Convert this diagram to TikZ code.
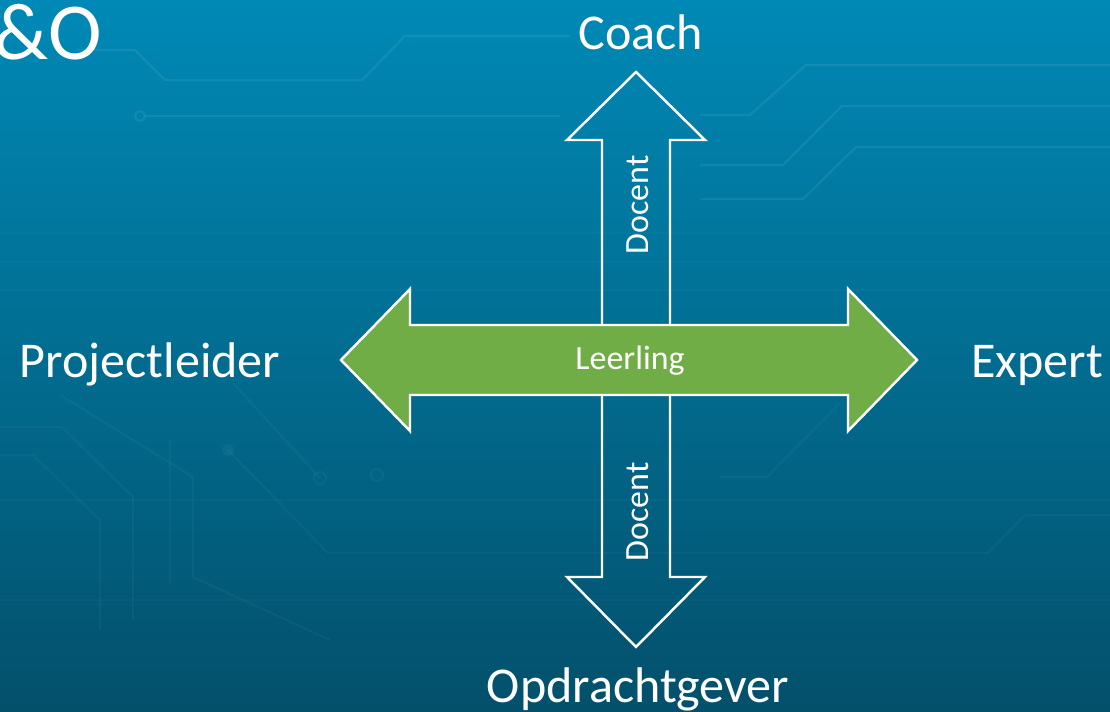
\documentclass[tikz,border=0pt]{standalone}
\usepackage{fontspec}
\setmainfont{Carlito}
\usetikzlibrary{positioning}

\definecolor{slidetop}{HTML}{0089B6}
\definecolor{slidebottom}{HTML}{03506B}
\definecolor{leerlinggreen}{HTML}{70AD47}

\begin{document}
\begin{tikzpicture}[
  x=0.02cm, y=-0.02cm,
  role/.style={text=white, inner sep=0pt, font=\fontsize{28.5}{34}\selectfont},
  arrowlabel/.style={text=white, inner sep=0pt, font=\fontsize{19.3}{23}\selectfont},
  outline/.style={draw=white, line width=1.4pt, line join=miter},
  trace/.style={draw=white, opacity=0.07, line width=1.3pt},
  faint/.style={trace, opacity=0.035}
]
  \useasboundingbox (0,0) rectangle (1110,712);
  \clip (0,0) rectangle (1110,712);

  % background
  \shade[top color=slidetop, bottom color=slidebottom] (0,0) rectangle (1110,712);
  \foreach \yy in {233,262,290,500,600}
    \draw[trace, opacity=0.025] (0,\yy) -- (1110,\yy);

  % circuit traces
  \draw[trace] (77,50) -- (135,50) -- (165,80) -- (362,80) -- (405,36) -- (570,36);
  \draw[trace] (140,116) circle (5);
  \draw[trace] (145,116) -- (560,116);
  \draw[trace] (700,115) -- (750,115) -- (806,65) -- (1110,65);
  \draw[trace] (700,165) -- (783,165) -- (842,106) -- (1110,106);
  \draw[trace] (700,199) -- (803,199) -- (856,147) -- (1110,147);
  \draw[faint] (720,477) -- (767,477) -- (840,403);
  \fill[white, opacity=0.04] (228,450) circle (6);
  \draw[faint] (228,450) -- (328,553) -- (988,553) -- (1025,515) -- (1110,515);
  \draw[faint] (233,383) -- (320,478);
  \draw[faint] (320,478) circle (6);
  \draw[faint] (377,475) circle (6);
  \draw[faint] (0,427) -- (62,427) -- (133,497) -- (133,620);
  \draw[faint] (0,455) -- (33,455) -- (100,520) -- (100,630);
  \draw[faint] (60,395) -- (193,477) -- (193,577) -- (330,640);
  \draw[faint] (170,440) -- (170,585);

  % vertical arrow (teacher roles)
  \draw[outline] (602,140) -- (567,140) -- (636,72) -- (705,140) -- (670,140)
    -- (670,577) -- (705,577) -- (636,647) -- (567,577) -- (602,577) -- cycle;

  % horizontal arrow (student roles)
  \draw[outline, fill=leerlinggreen] (410,325) -- (410,289) -- (341,360) -- (410,431) -- (410,395)
    -- (848,395) -- (848,431) -- (917,360) -- (848,289) -- (848,325) -- cycle;

  \node[arrowlabel, anchor=base] (leerling) at (630,370) {Leerling};
  \node[arrowlabel, anchor=base, rotate=90] (docentup) at (648,205) {Docent};
  \node[arrowlabel, anchor=base, rotate=90] (docentdown) at (648,512) {Docent};

  \node[role, anchor=base] (coach) at (641,50) {Coach};
  \node[role, anchor=base] (opdrachtgever) at (638,703) {Opdrachtgever};
  \node[role, anchor=base] (projectleider) at (150,378) {Projectleider};
  \node[role, anchor=base] (expert) at (1037,378) {Expert};
  \node[text=white, inner sep=0pt, font=\fontsize{46}{50}\selectfont, anchor=base east] (title) at (102,60) {\&O};
\end{tikzpicture}
\end{document}
